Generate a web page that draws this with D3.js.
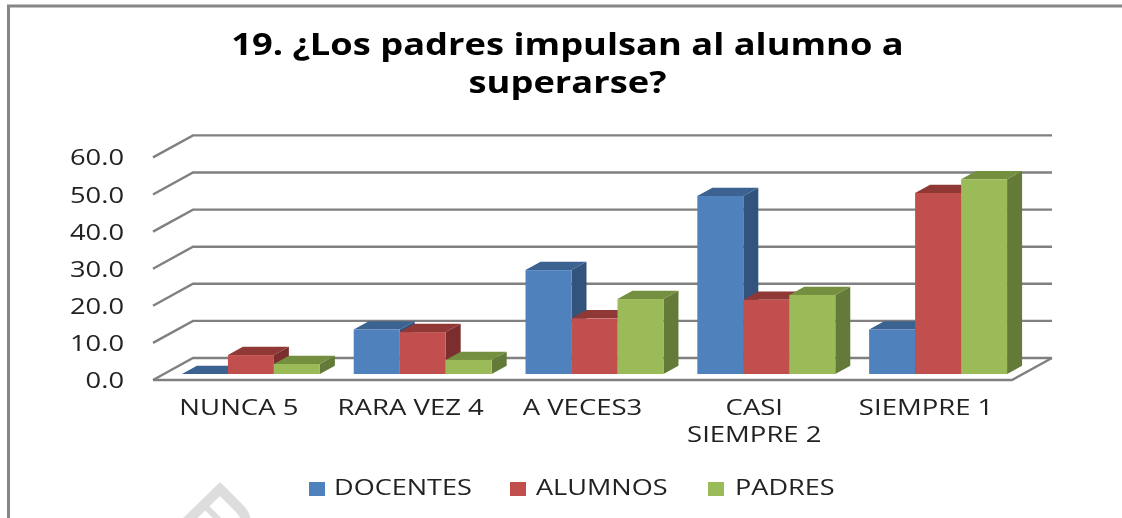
<!DOCTYPE html>
<html><head><meta charset="utf-8">
<script src="https://cdn.jsdelivr.net/npm/d3@7"></script>
<style>html,body{margin:0;padding:0;background:#fff}svg{display:block}</style></head>
<body><div id="chart"></div>
<script>
const titleLines = ["19. ¿Los padres impulsan al alumno a", "superarse?"];
const categories = ["NUNCA 5", "RARA VEZ 4", "A VECES3", "CASI SIEMPRE 2", "SIEMPRE 1"];
const categoryLines = [["NUNCA 5"], ["RARA VEZ 4"], ["A VECES3"], ["CASI", "SIEMPRE 2"], ["SIEMPRE 1"]];
const seriesNames = ["DOCENTES", "ALUMNOS", "PADRES"];
const docentes = [0, 12, 28, 48, 12];
const alumnos = [5.1, 11.3, 15, 20, 48.8];
const padres = [2.7, 3.8, 20.2, 21.3, 52.5];
const seriesValues = [docentes, alumnos, padres];
const yTicks = [0, 10, 20, 30, 40, 50, 60];
const faces = [
  {front:"#4f81bd", top:"#3b6290", side:"#30527c"},
  {front:"#c0504d", top:"#8f3836", side:"#7b2f2d"},
  {front:"#9bbb59", top:"#748f41", side:"#647a38"}
];
const W = 1122, H = 518;
const svg = d3.select("#chart").append("svg").attr("width", W).attr("height", H);
svg.append("defs").append("filter").attr("id", "soft")
  .attr("filterUnits", "userSpaceOnUse").attr("x", 0).attr("y", 0).attr("width", W).attr("height", H)
  .append("feGaussianBlur").attr("stdDeviation", 0.45);
const root = svg.append("g").attr("filter", "url(#soft)");
const font = "'Open Sans', sans-serif";
const x = d3.scaleBand().domain(categories).range([153, 1012]).paddingInner(0.197).paddingOuter(0.0985);
const y = d3.scaleLinear().domain([0, 60]).range([380, 157.4]);
const DX = 40, DY = -22;
const p = (px, py, d) => [px + DX * d, py + DY * d];
const line = d3.line();

function stretched(parent, t, px, py, anchor, sx, size, weight, fill) {
  return parent.append("text")
    .attr("transform", `translate(${px},${py}) scale(${sx},1)`)
    .attr("text-anchor", anchor).attr("font-family", font).attr("font-size", size)
    .attr("font-weight", weight).attr("fill", fill).text(t);
}

// frame
root.append("path").attr("d", "M8.5,518V6H1122").attr("fill", "none").attr("stroke", "#868686").attr("stroke-width", 3);

// watermark fragment
const mark = root.append("g").attr("fill", "none").attr("stroke", "#dddddd").attr("stroke-linejoin", "miter");
mark.append("path").attr("stroke-width", 10).attr("d", "M176,532L220,489L240,509Q248,517 245,530");
mark.append("path").attr("stroke-width", 6).attr("d", "M205,506L222,523");

// gridlines and floor
const gridG = root.append("g").attr("fill", "none").attr("stroke", "#808080").attr("stroke-width", 2.4);
yTicks.forEach(t => {
  gridG.append("path").attr("d", line([p(153, y(t), 0), p(153, y(t), 1), p(1012, y(t), 1)]));
});
gridG.append("path").attr("d", line([p(153,380,0), p(1012,380,0), p(1012,380,1)]));

// bars
const barW = x.bandwidth() / 3, d0 = 0.27, d1 = 0.645;
const base = y(0);
categories.forEach((c, i) => {
  seriesValues.forEach((vals, s) => {
    const xl = x(c) + 12 + s * barW, xr = xl + barW;
    const yb = base - 6, yt = y(vals[i]) - 6;
    const dd = d1 - d0;
    const g = root.append("g").attr("class", "bar");
    g.append("path").attr("fill", faces[s].side).attr("d", line([[xr,yb],[xr,yt],[xr+DX*dd,yt+DY*dd],[xr+DX*dd,yb+DY*dd]])+"Z");
    g.append("path").attr("fill", faces[s].top).attr("d", line([[xl,yt],[xr,yt],[xr+DX*dd,yt+DY*dd],[xl+DX*dd,yt+DY*dd]])+"Z");
    g.append("rect").attr("x", xl).attr("y", yt).attr("width", barW).attr("height", yb - yt).attr("fill", faces[s].front);
  });
});

// title
titleLines.forEach((t, i) => stretched(root, t, 567.5, 55 + i * 38, "middle", 1.21, 30, 700, "#000"));

// y labels
yTicks.forEach(d => stretched(root, d3.format(".1f")(d), 124, y(d) + 8, "end", 1.27, 21.5, 400, "#222"));

// x labels
categories.forEach((c, i) => {
  categoryLines[i].forEach((t, j) => {
    stretched(root, t, x(c) + x.bandwidth() / 2, 415 + j * 27, "middle", 1.31, 21, 400, "#222");
  });
});

// legend
const legendX = [309, 510, 708], legendTextX = [334, 536, 735];
seriesNames.forEach((n, i) => {
  root.append("rect").attr("x", legendX[i]).attr("y", 482).attr("width", 16).attr("height", 14).attr("fill", faces[i].front);
  stretched(root, n, legendTextX[i], 495, "start", 1.23, 22, 400, "#222");
});
</script></body></html>
